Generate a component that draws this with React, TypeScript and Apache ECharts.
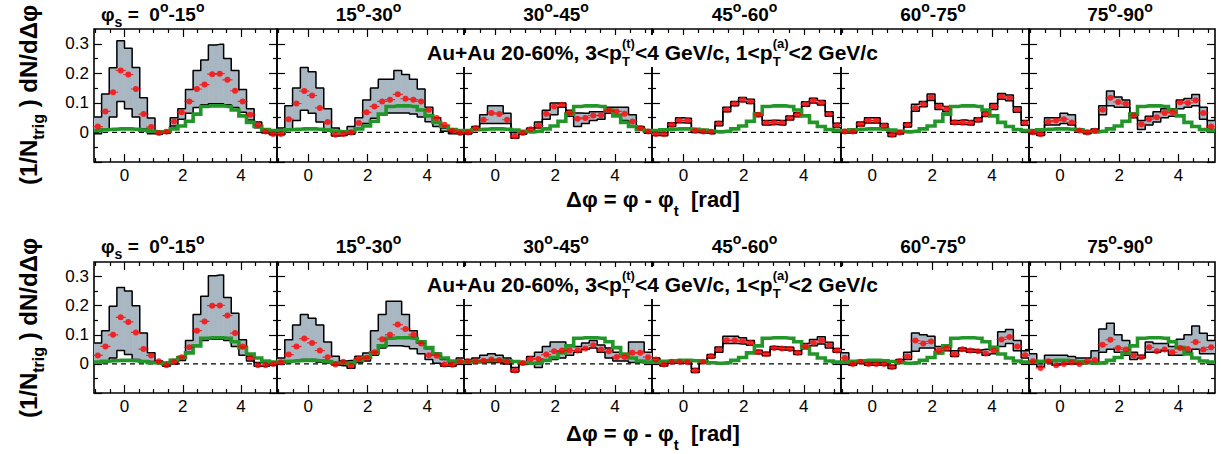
import React, { useEffect, useRef } from "react";
import * as echarts from "echarts";

const FONT = '"Liberation Sans", Arial, Helvetica, sans-serif';
const NBINS = 24;
const X_MIN = -Math.PI / 3;
const X_MAX = (5 * Math.PI) / 3;
const Y_MIN = -0.1;
const Y_MAX = 0.35;

const PHI_S_BINS = [["0", "15"], ["15", "30"], ["30", "45"], ["45", "60"], ["60", "75"], ["75", "90"]];
const X_TICKS = [0, 2, 4];
const X_MINOR = [-1, -0.5, 0.5, 1, 1.5, 2.5, 3, 3.5, 4.5, 5];
const Y_TICKS = [-0.1, 0, 0.1, 0.2, 0.3];
const Y_LABELS = [0, 0.1, 0.2, 0.3];
const Y_MINOR = [-0.05, 0.05, 0.15, 0.25];

// model reference (green histogram), same in all panels
const GREEN = [0.006, 0.009, 0.011, 0.012, 0.012, 0.011, 0.008, 0.004, 0.002, 0.004, 0.012, 0.022, 0.038, 0.062, 0.088, 0.09, 0.09, 0.088, 0.076, 0.056, 0.034, 0.02, 0.01, 0.006];

// ---------- top row ----------
const T1_RED = [0.02, 0.071, 0.136, 0.21, 0.196, 0.147, 0.062, 0.018, -0.002, 0.002, 0.037, 0.068, 0.105, 0.147, 0.162, 0.197, 0.199, 0.178, 0.141, 0.105, 0.06, 0.025, 0.003, -0.005];
const T1_UP = [0.052, 0.13, 0.219, 0.31, 0.285, 0.22, 0.117, 0.049, 0.005, 0.006, 0.05, 0.08, 0.145, 0.21, 0.245, 0.296, 0.298, 0.25, 0.21, 0.145, 0.08, 0.035, 0.01, 0.0];
const T1_LO = [-0.004, 0.012, 0.052, 0.105, 0.08, 0.052, 0.012, -0.004, -0.006, -0.003, 0.022, 0.045, 0.065, 0.084, 0.094, 0.097, 0.097, 0.094, 0.084, 0.068, 0.042, 0.016, -0.002, -0.008];

const T2_RED = [-0.005, 0.045, 0.098, 0.14, 0.125, 0.083, 0.035, -0.008, -0.005, 0.0, 0.032, 0.068, 0.088, 0.105, 0.111, 0.129, 0.114, 0.111, 0.105, 0.077, 0.049, 0.026, 0.006, -0.002];
const T2_UP = [0.015, 0.09, 0.15, 0.22, 0.205, 0.15, 0.08, 0.015, 0.005, 0.02, 0.05, 0.11, 0.15, 0.18, 0.18, 0.21, 0.196, 0.18, 0.147, 0.085, 0.05, 0.015, 0.005, 0.0];
const T2_LO = [-0.008, 0.01, 0.04, 0.075, 0.065, 0.035, 0.01, -0.012, -0.01, -0.006, 0.012, 0.03, 0.048, 0.06, 0.066, 0.066, 0.066, 0.062, 0.052, 0.036, 0.02, 0.004, -0.004, -0.006];

const T3_RED = [0.0, 0.015, 0.043, 0.066, 0.062, 0.043, -0.013, -0.002, 0.011, 0.023, 0.063, 0.088, 0.094, 0.066, 0.046, 0.049, 0.057, 0.058, 0.075, 0.071, 0.063, 0.037, 0.015, 0.003];
const T3_UP = [0.005, 0.02, 0.06, 0.09, 0.09, 0.065, 0.0, 0.003, 0.015, 0.035, 0.075, 0.1, 0.1, 0.075, 0.066, 0.065, 0.07, 0.07, 0.085, 0.085, 0.085, 0.06, 0.02, 0.006];
const T3_LO = [-0.005, 0.01, 0.03, 0.03, 0.03, 0.03, -0.02, -0.006, 0.005, 0.015, 0.045, 0.06, 0.085, 0.055, 0.02, 0.03, 0.04, 0.045, 0.065, 0.06, 0.04, 0.02, 0.01, -0.003];

const T4_RED = [-0.005, -0.005, 0.026, 0.041, 0.04, 0.006, 0.003, 0.002, 0.03, 0.077, 0.097, 0.111, 0.105, 0.06, 0.032, 0.034, 0.032, 0.049, 0.06, 0.096, 0.108, 0.1, 0.062, 0.024];
const T4_UP = [0.0, 0.0, 0.033, 0.05, 0.048, 0.012, 0.008, 0.007, 0.037, 0.085, 0.105, 0.118, 0.112, 0.067, 0.04, 0.041, 0.04, 0.056, 0.067, 0.104, 0.116, 0.108, 0.07, 0.031];
const T4_LO = [-0.01, -0.011, 0.02, 0.033, 0.032, 0.0, -0.002, -0.004, 0.023, 0.07, 0.09, 0.104, 0.098, 0.054, 0.025, 0.027, 0.025, 0.042, 0.053, 0.089, 0.1, 0.093, 0.055, 0.017];

const T5_RED = [0.003, 0.003, 0.028, 0.04, 0.04, 0.023, -0.008, 0.0, 0.026, 0.083, 0.096, 0.119, 0.088, 0.079, 0.034, 0.034, 0.032, 0.043, 0.062, 0.088, 0.122, 0.117, 0.077, 0.032];
const T5_UP = [0.008, 0.008, 0.035, 0.05, 0.05, 0.03, -0.002, 0.005, 0.033, 0.095, 0.105, 0.13, 0.098, 0.088, 0.04, 0.042, 0.04, 0.05, 0.07, 0.098, 0.132, 0.127, 0.087, 0.04];
const T5_LO = [-0.002, -0.002, 0.022, 0.032, 0.032, 0.016, -0.014, -0.005, 0.018, 0.072, 0.087, 0.108, 0.078, 0.07, 0.028, 0.027, 0.025, 0.036, 0.054, 0.078, 0.112, 0.107, 0.068, 0.024];

const T6_RED = [0.001, -0.006, 0.036, 0.04, 0.045, 0.034, 0.007, 0.0, 0.006, 0.077, 0.117, 0.103, 0.097, 0.057, 0.028, 0.045, 0.051, 0.066, 0.068, 0.102, 0.1, 0.109, 0.066, 0.02];
const T6_UP = [0.006, 0.0, 0.05, 0.05, 0.065, 0.06, 0.012, 0.005, 0.012, 0.09, 0.14, 0.12, 0.11, 0.065, 0.04, 0.055, 0.07, 0.08, 0.08, 0.11, 0.115, 0.128, 0.085, 0.04];
const T6_LO = [-0.004, -0.01, 0.025, 0.025, 0.03, 0.025, 0.002, -0.004, 0.0, 0.06, 0.09, 0.085, 0.085, 0.05, 0.01, 0.025, 0.035, 0.05, 0.055, 0.08, 0.085, 0.09, 0.045, 0.01];

// ---------- bottom row ----------
const B1_RED = [0.029, 0.06, 0.1, 0.16, 0.144, 0.108, 0.051, 0.029, 0.009, -0.005, 0.007, 0.023, 0.057, 0.114, 0.146, 0.2, 0.201, 0.166, 0.106, 0.06, 0.021, -0.005, -0.005, 0.0];
const B1_UP = [0.072, 0.114, 0.198, 0.262, 0.25, 0.2, 0.106, 0.038, 0.01, 0.0, 0.015, 0.025, 0.08, 0.17, 0.232, 0.303, 0.305, 0.228, 0.174, 0.083, 0.026, 0.005, 0.004, 0.005];
const B1_LO = [0.002, 0.01, 0.02, 0.046, 0.032, 0.015, 0.01, 0.008, 0.004, -0.008, 0.0, 0.012, 0.04, 0.065, 0.08, 0.085, 0.085, 0.08, 0.06, 0.03, 0.01, -0.008, -0.008, -0.005];

const B2_RED = [0.006, 0.032, 0.06, 0.087, 0.072, 0.046, 0.023, -0.002, 0.007, -0.006, 0.018, 0.021, 0.04, 0.085, 0.1, 0.135, 0.12, 0.1, 0.07, 0.03, 0.028, -0.002, -0.003, 0.008];
const B2_UP = [0.02, 0.083, 0.134, 0.17, 0.157, 0.134, 0.075, 0.026, 0.01, 0.012, 0.026, 0.037, 0.114, 0.17, 0.215, 0.215, 0.17, 0.114, 0.072, 0.052, 0.037, 0.015, 0.006, 0.02];
const B2_LO = [0.0, 0.005, 0.008, 0.015, 0.015, 0.006, 0.003, -0.004, -0.006, -0.015, 0.005, 0.01, 0.03, 0.055, 0.062, 0.062, 0.06, 0.052, 0.035, 0.015, 0.002, -0.008, -0.008, 0.0];

const B3_RED = [0.009, 0.009, 0.011, 0.015, 0.013, 0.007, -0.023, 0.003, 0.017, 0.017, 0.032, 0.043, 0.046, 0.046, 0.046, 0.053, 0.064, 0.049, 0.043, 0.024, 0.024, 0.038, 0.038, 0.023];
const B3_UP = [0.015, 0.02, 0.03, 0.035, 0.03, 0.02, -0.012, 0.008, 0.025, 0.04, 0.06, 0.075, 0.075, 0.065, 0.06, 0.072, 0.08, 0.065, 0.055, 0.04, 0.035, 0.075, 0.075, 0.04];
const B3_LO = [0.004, 0.004, 0.005, 0.005, 0.005, 0.0, -0.028, -0.002, 0.0, -0.012, 0.01, 0.015, 0.02, 0.03, 0.04, 0.05, 0.055, 0.04, 0.02, 0.01, 0.01, 0.005, 0.005, 0.005];

const B4_RED = [0.015, -0.002, 0.007, 0.007, 0.006, -0.023, 0.007, 0.026, 0.049, 0.081, 0.081, 0.078, 0.072, 0.041, 0.034, 0.055, 0.053, 0.051, 0.038, 0.061, 0.072, 0.08, 0.064, 0.046];
const B4_UP = [0.02, 0.003, 0.012, 0.012, 0.011, -0.016, 0.012, 0.032, 0.058, 0.095, 0.095, 0.09, 0.08, 0.047, 0.04, 0.06, 0.058, 0.057, 0.045, 0.07, 0.084, 0.093, 0.074, 0.053];
const B4_LO = [0.01, -0.007, 0.002, 0.002, 0.001, -0.03, 0.002, 0.02, 0.04, 0.07, 0.07, 0.068, 0.064, 0.035, 0.028, 0.05, 0.048, 0.046, 0.032, 0.052, 0.062, 0.068, 0.055, 0.04];

const B5_RED = [0.02, 0.0, 0.007, 0.0, 0.0, 0.0, -0.011, 0.01, 0.025, 0.08, 0.07, 0.077, 0.046, 0.055, 0.033, 0.05, 0.046, 0.043, 0.036, 0.046, 0.084, 0.092, 0.06, 0.03];
const B5_UP = [0.038, 0.005, 0.012, 0.005, 0.005, 0.005, -0.005, 0.015, 0.04, 0.106, 0.1, 0.095, 0.06, 0.065, 0.045, 0.055, 0.05, 0.048, 0.05, 0.06, 0.11, 0.118, 0.08, 0.045];
const B5_LO = [0.005, -0.005, 0.002, -0.005, -0.005, -0.005, -0.016, 0.005, 0.015, 0.043, 0.055, 0.055, 0.035, 0.045, 0.025, 0.045, 0.04, 0.04, 0.03, 0.035, 0.06, 0.07, 0.045, 0.02];

const B6_RED = [0.009, -0.014, 0.009, -0.005, 0.0, 0.006, 0.0, 0.009, 0.013, 0.066, 0.083, 0.055, 0.049, 0.029, 0.023, 0.057, 0.043, 0.049, 0.04, 0.055, 0.051, 0.075, 0.049, 0.057];
const B6_UP = [0.035, 0.01, 0.03, 0.03, 0.03, 0.025, 0.02, 0.02, 0.045, 0.12, 0.14, 0.1, 0.08, 0.04, 0.03, 0.075, 0.07, 0.07, 0.06, 0.085, 0.1, 0.13, 0.105, 0.08];
const B6_LO = [0.0, -0.01, 0.005, -0.005, 0.0, 0.0, 0.0, 0.005, 0.0, 0.04, 0.05, 0.04, 0.03, 0.015, 0.02, 0.04, 0.04, 0.045, 0.03, 0.03, 0.04, 0.05, 0.035, 0.035];

const ROWS = [
  [
    { red: T1_RED, up: T1_UP, lo: T1_LO },
    { red: T2_RED, up: T2_UP, lo: T2_LO },
    { red: T3_RED, up: T3_UP, lo: T3_LO },
    { red: T4_RED, up: T4_UP, lo: T4_LO },
    { red: T5_RED, up: T5_UP, lo: T5_LO },
    { red: T6_RED, up: T6_UP, lo: T6_LO },
  ],
  [
    { red: B1_RED, up: B1_UP, lo: B1_LO },
    { red: B2_RED, up: B2_UP, lo: B2_LO },
    { red: B3_RED, up: B3_UP, lo: B3_LO },
    { red: B4_RED, up: B4_UP, lo: B4_LO },
    { red: B5_RED, up: B5_UP, lo: B5_LO },
    { red: B6_RED, up: B6_UP, lo: B6_LO },
  ],
];

// layout
const COL_X = [94, 277, 464, 652, 841, 1029, 1215];
const ROW_Y = [
  [29, 162],
  [262, 393],
];
const TITLE_Y = [14, 246];
const LABEL_Y = [52, 284];
const XTITLE_Y = [199, 433];
const YTITLE_Y = [95, 328];

const BIN_W = (X_MAX - X_MIN) / NBINS;
const BIN_CENTERS = Array.from({ length: NBINS }, (_, i) => X_MIN + (i + 0.5) * BIN_W);

type Part = { t: string; k?: "sub" | "sup" | "ss"; s?: string };

function layoutParts(ctx: CanvasRenderingContext2D, parts: Part[], size: number, bold: boolean, subDy: number, supDy: number, smallRatio = 0.66) {
  const w = bold ? "bold " : "";
  const small = Math.round(size * smallRatio);
  const fMain = `${w}${size}px ${FONT}`;
  const fSmall = `${w}${small}px ${FONT}`;
  const meas = (f: string, t: string) => {
    ctx.font = f;
    return ctx.measureText(t).width;
  };
  const items: { t: string; x: number; dy: number; f: string }[] = [];
  let x = 0;
  for (const p of parts) {
    if (!p.k) {
      items.push({ t: p.t, x, dy: 0, f: fMain });
      x += meas(fMain, p.t);
    } else if (p.k === "sub") {
      items.push({ t: p.t, x, dy: size * subDy, f: fSmall });
      x += meas(fSmall, p.t);
    } else if (p.k === "sup") {
      items.push({ t: p.t, x, dy: -size * supDy, f: fSmall });
      x += meas(fSmall, p.t);
    } else {
      items.push({ t: p.t, x, dy: size * subDy, f: fSmall });
      items.push({ t: p.s || "", x, dy: -size * supDy, f: fSmall });
      x += Math.max(meas(fSmall, p.t), meas(fSmall, p.s || ""));
    }
  }
  return { items, width: x };
}

function textGroup(line: ReturnType<typeof layoutParts>, x: number, y: number, anchor: "left" | "center", rotation = 0) {
  const off = anchor === "center" ? -line.width / 2 : 0;
  return {
    type: "group",
    x,
    y,
    rotation,
    silent: true,
    children: line.items.map((it) => ({
      type: "text",
      x: it.x + off,
      y: it.dy,
      z: 60,
      silent: true,
      style: {
        text: it.t,
        font: it.f,
        fill: "#000",
        align: "left",
        verticalAlign: "middle",
        textAlign: "left",
        textVerticalAlign: "middle",
      },
    })),
  };
}

const stepPts = (vals: number[]) => [
  [X_MIN, vals[0]],
  ...BIN_CENTERS.map((c, i) => [c, vals[i]]),
  [X_MAX, vals[vals.length - 1]],
];

const RED_MARK = "path://M0,2.4L10,2.4L10,3.6L0,3.6Z M8,3A3,3,0,1,1,2,3A3,3,0,1,1,8,3Z";
const BAND_FILL = "#a9b7c3";

function bandRender(params: any, api: any) {
  const x0 = api.value(0);
  const x1 = api.value(1);
  const lo = api.value(2);
  const up = api.value(3);
  const p0 = api.coord([x0, up]);
  const p1 = api.coord([x1, lo]);
  return {
    type: "rect",
    shape: { x: p0[0], y: p0[1], width: p1[0] - p0[0], height: p1[1] - p0[1] },
    style: { fill: BAND_FILL, stroke: BAND_FILL, lineWidth: 0.6 },
  };
}

function buildOption() {
  const canvas = document.createElement("canvas");
  const ctx = canvas.getContext("2d") as CanvasRenderingContext2D;

  const grids: any[] = [];
  const xAxes: any[] = [];
  const yAxes: any[] = [];
  const series: any[] = [];
  const graphics: any[] = [];

  const tickStyle = { color: "#000", width: 1.2 };
  const noLine = { show: false, onZero: false };

  ROWS.forEach((row, r) => {
    row.forEach((panel, c) => {
      const g = grids.length;
      grids.push({
        left: COL_X[c],
        top: ROW_Y[r][0],
        width: COL_X[c + 1] - COL_X[c],
        height: ROW_Y[r][1] - ROW_Y[r][0],
        show: true,
        borderColor: "#000",
        borderWidth: 1.6,
        backgroundColor: "transparent",
        containLabel: false,
        outerBoundsMode: "none",
      });
      const xBase = { gridIndex: g, type: "value", min: X_MIN, max: X_MAX, axisLine: noLine, splitLine: { show: false } };
      const yBase = { gridIndex: g, type: "value", min: Y_MIN, max: Y_MAX, axisLine: noLine, splitLine: { show: false } };
      const xi = xAxes.length;
      xAxes.push({
        ...xBase,
        position: "bottom",
        axisTick: { show: true, inside: true, length: 8, customValues: X_TICKS, lineStyle: tickStyle },
        axisLabel: { show: true, customValues: X_TICKS, color: "#000", fontSize: 17, fontFamily: FONT, margin: 5 },
      });
      xAxes.push({ ...xBase, position: "bottom", axisTick: { show: true, inside: true, length: 4, customValues: X_MINOR, lineStyle: tickStyle }, axisLabel: { show: false } });
      xAxes.push({ ...xBase, position: "top", axisTick: { show: true, inside: true, length: 8, customValues: X_TICKS, lineStyle: tickStyle }, axisLabel: { show: false } });
      xAxes.push({ ...xBase, position: "top", axisTick: { show: true, inside: true, length: 4, customValues: X_MINOR, lineStyle: tickStyle }, axisLabel: { show: false } });
      const yi = yAxes.length;
      yAxes.push({
        ...yBase,
        position: "left",
        axisTick: { show: true, inside: true, length: 8, customValues: Y_TICKS, lineStyle: tickStyle },
        axisLabel: { show: c === 0, customValues: Y_LABELS, color: "#000", fontSize: 17, fontFamily: FONT, margin: 5 },
      });
      yAxes.push({ ...yBase, position: "left", axisTick: { show: true, inside: true, length: 4, customValues: Y_MINOR, lineStyle: tickStyle }, axisLabel: { show: false } });
      yAxes.push({ ...yBase, position: "right", axisTick: { show: true, inside: true, length: 8, customValues: Y_TICKS, lineStyle: tickStyle }, axisLabel: { show: false } });
      yAxes.push({ ...yBase, position: "right", axisTick: { show: true, inside: true, length: 4, customValues: Y_MINOR, lineStyle: tickStyle }, axisLabel: { show: false } });

      const ax = { xAxisIndex: xi, yAxisIndex: yi };
      // systematic band (filled bins between lower and upper)
      series.push({
        ...ax,
        type: "custom",
        renderItem: bandRender,
        data: BIN_CENTERS.map((cx, i) => [cx - BIN_W / 2, cx + BIN_W / 2, panel.lo[i], panel.up[i]]),
        encode: { x: [0, 1], y: [2, 3] },
        clip: true,
        z: 1,
        silent: true,
      });
      // band edges
      for (const edge of [panel.lo, panel.up]) {
        series.push({
          ...ax,
          type: "line",
          data: stepPts(edge),
          step: "middle",
          symbol: "none",
          lineStyle: { color: "#000", width: 1.5 },
          z: 2,
          silent: true,
        });
      }
      // zero line
      series.push({
        ...ax,
        type: "line",
        data: [
          [X_MIN, 0],
          [X_MAX, 0],
        ],
        symbol: "none",
        lineStyle: { color: "#000", width: 1.2, type: [5, 4] },
        z: 2,
        silent: true,
      });
      // green model histogram
      series.push({
        ...ax,
        type: "line",
        data: stepPts(GREEN),
        step: "middle",
        symbol: "none",
        showSymbol: false,
        lineStyle: { color: "#23962a", width: 3.6, join: "miter", cap: "butt" },
        z: 3,
        silent: true,
      });
      // data points
      series.push({
        ...ax,
        type: "scatter",
        data: BIN_CENTERS.map((x, i) => [x, panel.red[i]]),
        symbol: RED_MARK,
        symbolSize: [10, 6],
        itemStyle: { color: "#ff0000" },
        z: 5,
        silent: true,
      });

      // panel title
      const [a, b] = PHI_S_BINS[c];
      if (c === 0) {
        const line = layoutParts(
          ctx,
          [{ t: "φ" }, { t: "s", k: "sub" }, { t: " =  " + a }, { t: "o", k: "sup" }, { t: "-" + b }, { t: "o", k: "sup" }],
          19,
          true,
          0.42,
          0.36,
          0.72
        );
        graphics.push(textGroup(line, 101, TITLE_Y[r], "left"));
      } else {
        const line = layoutParts(ctx, [{ t: a }, { t: "o", k: "sup" }, { t: "-" + b }, { t: "o", k: "sup" }], 19, true, 0.42, 0.36, 0.72);
        graphics.push(textGroup(line, (COL_X[c] + COL_X[c + 1]) / 2 - 2, TITLE_Y[r], "center"));
      }
    });

    // white box with collision / kinematics label
    graphics.push({
      type: "rect",
      shape: { x: 421, y: LABEL_Y[r] - 17, width: 467, height: 32 },
      style: { fill: "#fff" },
      z: 50,
      silent: true,
    });
    const lab = layoutParts(
      ctx,
      [
        { t: "Au+Au 20-60%, 3<p" },
        { t: "T", k: "ss", s: "(t)" },
        { t: "<4 GeV/c, 1<p" },
        { t: "T", k: "ss", s: "(a)" },
        { t: "<2 GeV/c" },
      ],
      21,
      true,
      0.46,
      0.4,
      0.6
    );
    graphics.push(textGroup(lab, 427, LABEL_Y[r], "left"));

    // x axis title
    const xt = layoutParts(ctx, [{ t: "Δφ = φ - φ" }, { t: "t", k: "sub" }, { t: "  [rad]" }], 22, true, 0.5, 0.4);
    graphics.push(textGroup(xt, 653, XTITLE_Y[r], "center"));

    // y axis title (rotated)
    const yt = layoutParts(ctx, [{ t: "(1/N" }, { t: "trig", k: "sub" }, { t: " ) dN/dΔφ" }], 24, true, 0.45, 0.4);
    graphics.push(textGroup(yt, 28, YTITLE_Y[r], "center", Math.PI / 2));
  });

  return {
    animation: false,
    backgroundColor: "#fff",
    textStyle: { fontFamily: FONT },
    grid: grids,
    xAxis: xAxes,
    yAxis: yAxes,
    series,
    graphic: { elements: graphics },
  };
}

export default function App() {
  const ref = useRef<HTMLDivElement>(null);
  useEffect(() => {
    if (!ref.current) return;
    const chart = echarts.init(ref.current, null, { renderer: "svg" });
    chart.setOption(buildOption() as any);
    return () => chart.dispose();
  }, []);
  return (
    <div
      ref={ref}
      style={{ position: "fixed", left: 0, top: 0, width: 1221, height: 454, background: "#fff" }}
    />
  );
}
